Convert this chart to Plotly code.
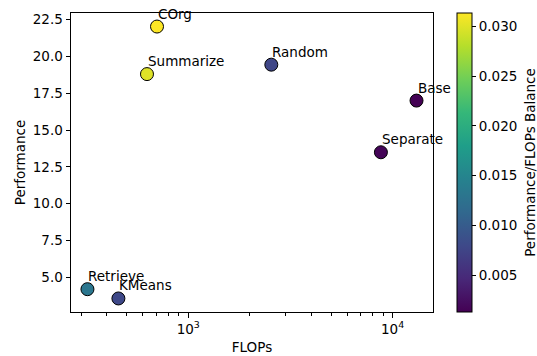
import numpy as np
import plotly.graph_objects as go

methods = ["Base", "Random", "Separate", "Retrieve", "KMeans", "Summarize", "COrg"]
flops = [13100, 2550, 8770, 321, 455, 628, 703]
performance = [17.0, 19.44, 13.49, 4.19, 3.56, 18.8, 22.03]

balance = [p / f for p, f in zip(performance, flops)]

FONT = "DejaVu Sans"
FS = 13.5
tfont = dict(family=FONT, size=FS, color="black")

fig = go.Figure()
fig.add_trace(go.Scatter(
    x=flops, y=performance, mode="markers",
    marker=dict(size=13, color=balance, colorscale="Viridis",
                cmin=min(balance), cmax=max(balance),
                line=dict(color="black", width=1),
                colorbar=dict(
                    thickness=15, len=1, lenmode="fraction", y=0.5, yanchor="middle",
                    x=1.0655, xanchor="left", xpad=0, ypad=0,
                    outlinecolor="black", outlinewidth=1,
                    ticks="outside", ticklen=4, tickcolor="black",
                    tickvals=[0.005, 0.010, 0.015, 0.020, 0.025, 0.030],
                    tickformat=".3f",
                    tickfont=tfont,
                )),
    showlegend=False,
))

for m, f, p in zip(methods, flops, performance):
    fig.add_annotation(x=np.log10(f), y=p, text=m, showarrow=False,
                       xanchor="left", yanchor="bottom", xshift=-1, yshift=3,
                       font=tfont)

fig.add_annotation(xref="paper", yref="paper", x=1.266, y=0.5,
                   text="Performance/FLOPs Balance", textangle=-90, showarrow=False,
                   xanchor="center", yanchor="middle", font=tfont)

minor_vals = [d * 10 ** e for e in (2, 3, 4) for d in range(2, 10)]

fig.update_layout(
    width=537, height=356,
    margin=dict(l=71, r=104, t=13, b=44),
    paper_bgcolor="white", plot_bgcolor="white",
    font=tfont,
    xaxis=dict(
        type="log", range=[2.426, 4.198], automargin=False,
        tickvals=[1000, 10000], ticktext=["10<sup>3</sup>", "10<sup>4</sup>"],
        ticks="outside", ticklen=4.5, tickcolor="black", tickfont=tfont,
        showline=True, linecolor="black", linewidth=1, mirror=True,
        showgrid=False, zeroline=False,
        minor=dict(tickvals=minor_vals, ticks="outside", ticklen=2.5, tickcolor="black", showgrid=False),
        title=dict(text="FLOPs", standoff=6, font=tfont),
    ),
    yaxis=dict(
        range=[2.64, 22.95], automargin=False,
        tickvals=[5, 7.5, 10, 12.5, 15, 17.5, 20, 22.5], tickformat=".1f",
        ticks="outside", ticklen=4.5, tickcolor="black", tickfont=tfont,
        showline=True, linecolor="black", linewidth=1, mirror=True,
        showgrid=False, zeroline=False,
        title=dict(text="Performance", standoff=4, font=tfont),
    ),
)

fig.write_html("out.html", config={"displayModeBar": False},
               post_script="document.body.style.margin='0';document.body.style.overflow='hidden';")
